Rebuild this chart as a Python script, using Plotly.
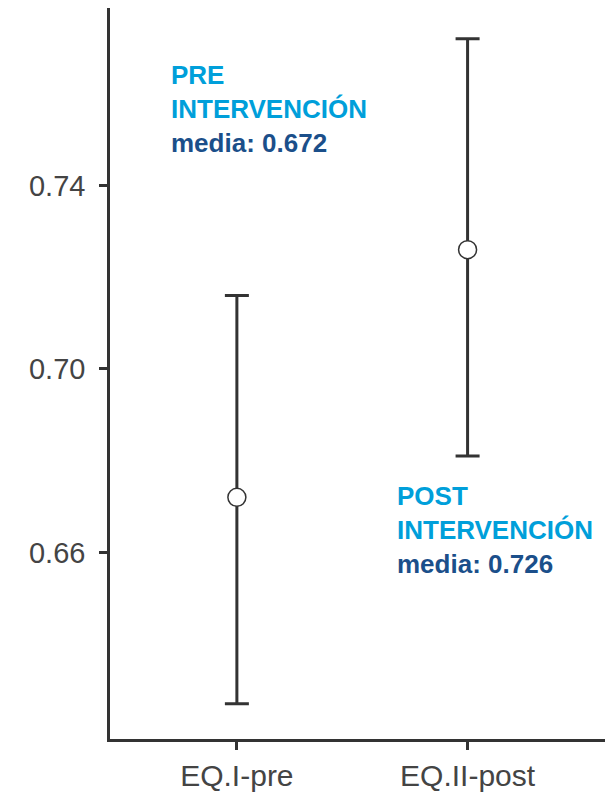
import plotly.graph_objects as go

categories = ["EQ.I-pre", "EQ.II-post"]
means = [0.672, 0.726]
upper = [0.716, 0.772]
lower = [0.627, 0.681]
y_ticks = [0.66, 0.70, 0.74]
y_tick_labels = ["0.66", "0.70", "0.74"]

err_plus = [u - m for u, m in zip(upper, means)]
err_minus = [m - l for m, l in zip(means, lower)]

axis_col = "#333333"
light_blue = "#009FDA"
dark_blue = "#1B4F8A"
font_fam = "Liberation Sans, Arial, sans-serif"

fig = go.Figure()
fig.add_trace(go.Scatter(
    x=[0, 1], y=means, mode="markers",
    marker=dict(size=18, color="white", line=dict(color=axis_col, width=1.5)),
    error_y=dict(type="data", symmetric=False, array=err_plus, arrayminus=err_minus,
                 color=axis_col, thickness=3, width=12),
    showlegend=False, hoverinfo="skip",
))

fig.add_annotation(
    x=-0.294, y=0.7678, xref="x", yref="y", xanchor="left", yanchor="top", align="left",
    showarrow=False,
    text=f"<b><span style='color:{light_blue}'>PRE<br>INTERVENCIÓN</span><br>"
         f"<span style='color:{dark_blue}'>media: {means[0]:.3f}</span></b>",
    font=dict(family=font_fam, size=26),
)
fig.add_annotation(
    x=0.684, y=0.676, xref="x", yref="y", xanchor="left", yanchor="top", align="left",
    showarrow=False,
    text=f"<b><span style='color:{light_blue}'>POST<br>INTERVENCIÓN</span><br>"
         f"<span style='color:{dark_blue}'>media: {means[1]:.3f}</span></b>",
    font=dict(family=font_fam, size=26),
)

fig.update_xaxes(
    range=[-0.55, 1.665], tickvals=[0, 1], ticktext=categories,
    showline=True, linecolor=axis_col, linewidth=2.5, mirror=False,
    ticks="outside", ticklen=8, tickwidth=2.5, tickcolor=axis_col,
    showgrid=False, zeroline=False,
    tickfont=dict(family=font_fam, size=30, color="#444444"),
    ticklabelstandoff=0,
)
fig.update_yaxes(
    range=[0.6193, 0.7787], tickvals=y_ticks, ticktext=y_tick_labels,
    showline=True, linecolor=axis_col, linewidth=2.5,
    ticks="outside", ticklen=8, tickwidth=2.5, tickcolor=axis_col,
    showgrid=False, zeroline=False,
    tickfont=dict(family=font_fam, size=29, color="#444444"),
    ticklabelstandoff=8,
)
fig.update_layout(
    width=613, height=789,
    margin=dict(l=102, r=0, t=0, b=58, autoexpand=False),
    plot_bgcolor="white", paper_bgcolor="white",
)
fig.write_html("out.html")
